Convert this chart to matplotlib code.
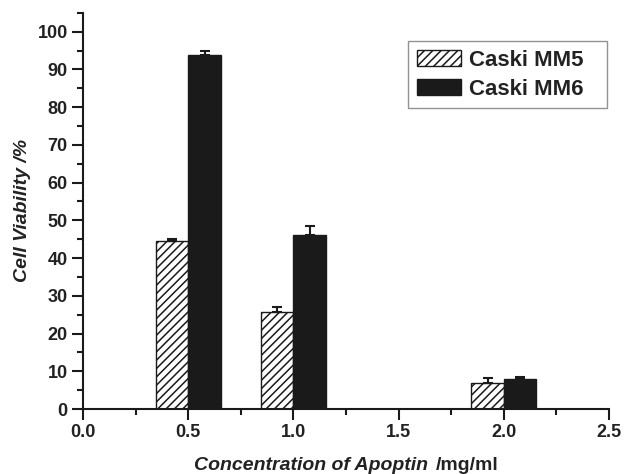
import matplotlib
matplotlib.use("Agg")
import matplotlib.pyplot as plt
from matplotlib.ticker import MultipleLocator
from matplotlib.offsetbox import TextArea, HPacker, AnchoredOffsetbox

# data
conc = [0.5, 1.0, 2.0]
mm5 = [44.6, 25.7, 6.8]
mm5_err = [0.5, 1.4, 1.3]
mm6 = [93.8, 46.2, 8.0]
mm6_err = [1.2, 2.2, 0.4]
labels = ["Caski MM5", "Caski MM6"]

plt.rcParams["font.family"] = "Liberation Sans"
plt.rcParams["font.weight"] = "bold"
plt.rcParams["hatch.linewidth"] = 1.1
txt = "#222222"

fig = plt.figure(figsize=(6.24, 4.74), dpi=100)
ax = fig.add_axes([0.133, 0.137, 0.843, 0.836])

w = 0.155
err_style = dict(ecolor="#1a1a1a", elinewidth=1.5, capsize=3.6, capthick=1.5)
ax.bar(conc, mm5, width=-w, align="edge", color="white", edgecolor="#1a1a1a",
       hatch="////", linewidth=1.0, label=labels[0],
       yerr=[[0] * 3, mm5_err], error_kw=err_style)
ax.bar(conc, mm6, width=w, align="edge", color="#1a1a1a", edgecolor="#1a1a1a",
       linewidth=1.0, label=labels[1],
       yerr=[[0] * 3, mm6_err], error_kw=err_style)

ax.set_xlim(0, 2.5)
ax.set_ylim(0, 105)
ax.xaxis.set_major_locator(MultipleLocator(0.5))
ax.xaxis.set_minor_locator(MultipleLocator(0.25))
ax.yaxis.set_minor_locator(MultipleLocator(5))
ax.set_yticks(range(0, 101, 10))

for s in ["top", "right"]:
    ax.spines[s].set_visible(False)
for s in ["left", "bottom"]:
    ax.spines[s].set_linewidth(1.5)
    ax.spines[s].set_color("#1a1a1a")
ax.tick_params(which="major", direction="out", length=8, width=1.5, color="#1a1a1a",
               labelsize=13, labelcolor=txt, pad=3)
ax.tick_params(which="minor", direction="out", length=4.5, width=1.5, color="#1a1a1a")
for t in ax.get_xticklabels() + ax.get_yticklabels():
    t.set_fontweight("bold")

# x label: italic part + upright unit
part1 = TextArea("Concentration of Apoptin",
                 textprops=dict(fontsize=14, fontweight="bold", style="italic", color=txt))
part2 = TextArea("/mg/ml", textprops=dict(fontsize=14, fontweight="bold", color=txt))
box = HPacker(children=[part1, part2], align="baseline", pad=0, sep=5)
anchored = AnchoredOffsetbox(loc="lower center", child=box, pad=0, borderpad=0, frameon=False,
                             bbox_to_anchor=(0.555, 0.0), bbox_transform=fig.transFigure)
fig.add_artist(anchored)

ax.set_ylabel("Cell Viability /%", fontsize=14, fontweight="bold", style="italic",
              color=txt, labelpad=5)

leg = ax.legend(loc="upper left", bbox_to_anchor=(0.618, 0.0, 0.378, 0.929), mode="expand",
                borderaxespad=0, fontsize=16, frameon=True, fancybox=False,
                edgecolor="#777777", handlelength=2.0, handleheight=0.75, borderpad=0.4,
                labelspacing=0.35, handletextpad=0.35)
leg.get_frame().set_linewidth(1.0)
for t in leg.get_texts():
    t.set_color(txt)
    t.set_fontweight("bold")

fig.savefig("out.png", dpi=100)
